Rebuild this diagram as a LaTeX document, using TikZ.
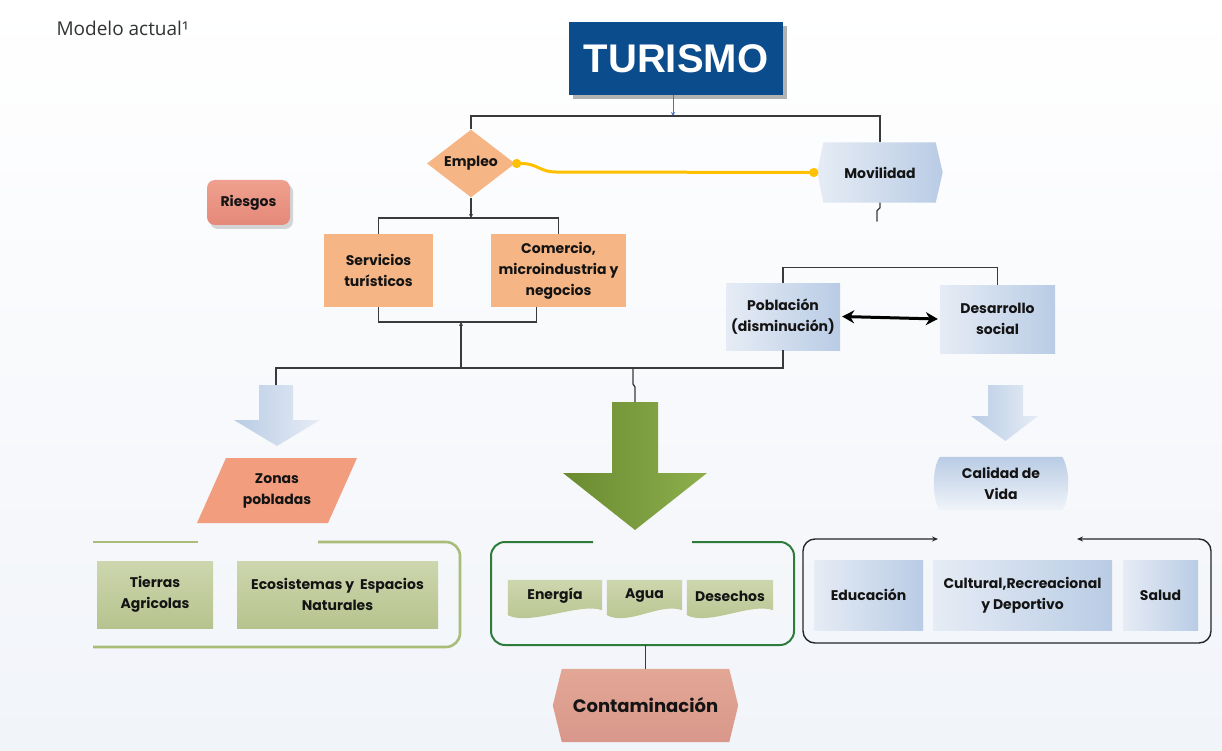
\documentclass[tikz,border=0pt]{standalone}
\usepackage{fontspec}
\setmainfont{Poppins}
\newfontfamily\headfont{Liberation Sans}
\newfontfamily\notefont{Open Sans}
\usetikzlibrary{shapes.geometric,shadows,arrows.meta,calc,backgrounds}

\definecolor{turblue}{HTML}{0B4C8C}
\definecolor{peach}{HTML}{F5B585}
\definecolor{ylw}{HTML}{FFC000}
\definecolor{bluelo}{HTML}{E6ECF5}
\definecolor{bluehi}{HTML}{B9CCE5}
\definecolor{olivelo}{HTML}{CDD6AE}
\definecolor{olivehi}{HTML}{B7C38E}
\definecolor{salmon}{HTML}{F29D7E}
\definecolor{risklo}{HTML}{E5897A}
\definecolor{riskhi}{HTML}{EFA08E}
\definecolor{roselo}{HTML}{D8978A}
\definecolor{rosehi}{HTML}{E3A796}
\definecolor{gframe}{HTML}{2E7B3B}
\definecolor{lframe}{HTML}{A9BD79}
\definecolor{linegray}{HTML}{3A3A3A}
\definecolor{grnA}{HTML}{6A8A30}
\definecolor{grnB}{HTML}{8DAF4D}
\definecolor{arrblue}{HTML}{4472C4}
\definecolor{bgc}{HTML}{F1F4F9}
\definecolor{txt}{HTML}{141414}

\begin{document}
\begin{tikzpicture}[x=1pt,y=-1pt,
  lbl/.style={font=\bfseries\fontsize{14}{21}\selectfont, align=center, text=txt, inner sep=0pt},
  bluebox/.style={left color=bluelo, right color=bluehi},
  olivebox/.style={top color=olivelo, bottom color=olivehi},
  conn/.style={draw=linegray, line width=1.3pt},
  tur/.style={fill=turblue, text=white, inner sep=0pt,
    font=\headfont\bfseries\fontsize{40}{44}\selectfont,
    drop shadow={shadow xshift=4pt, shadow yshift=-4pt, fill=black!50, opacity=0.6}},
  ylwline/.style={draw=ylw, line width=3pt, {Circle[length=9pt]}-{Circle[length=9pt]}}
]
\useasboundingbox (0,0) rectangle (1222,751);

% ---------- nodes ----------
\node[anchor=west, font=\notefont\fontsize{19}{21}\selectfont, text=black!80] (ttl) at (53,28) {Modelo actual¹};
\node[tur, minimum width=214, minimum height=73] (tur) at (676,58.5) {TURISMO};
\node[lbl, diamond, fill=peach, minimum width=88, minimum height=57] (emp) at (471,163.5) {Empleo};
\node[lbl, minimum width=125, minimum height=60] (mov) at (880,172.5) {Movilidad};
\node[lbl, rounded corners=8, top color=riskhi, bottom color=risklo, minimum width=83, minimum height=45,
  drop shadow={shadow xshift=3pt, shadow yshift=-4pt, fill=black!40, opacity=0.4}] (rie) at (248.5,202.5) {Riesgos};
\node[lbl, fill=peach, minimum width=109, minimum height=73] (serv) at (378.5,270.5) {Servicios\\turísticos};
\node[lbl, fill=peach, minimum width=135, minimum height=73] (com) at (558.5,270.5) {Comercio,\\microindustria y\\negocios};
\node[lbl, bluebox, minimum width=114, minimum height=67] (pob) at (783,316.5) {Población\\(disminución)};
\node[lbl, bluebox, minimum width=115, minimum height=68] (des) at (997.5,319) {Desarrollo\\social};
\node[lbl, minimum width=110, minimum height=60] (zon) at (277,490.5) {Zonas\\pobladas};
\node[lbl, minimum width=132, minimum height=53] (cal) at (1001,483.5) {Calidad de\\Vida};
\node[lbl, olivebox, minimum width=116, minimum height=67] (tie) at (155,594.5) {Tierras\\Agricolas};
\node[lbl, olivebox, minimum width=201, minimum height=67] (eco) at (337.5,594.5) {Ecosistemas y\ \ Espacios\\Naturales};
\node[lbl, minimum width=94, minimum height=28] (ene) at (555,596) {Energía};
\node[lbl, minimum width=75, minimum height=28] (agu) at (644.5,596) {Agua};
\node[lbl, minimum width=86, minimum height=28] (dsc) at (730,596) {Desechos};
\node[lbl, bluebox, minimum width=109, minimum height=70] (edu) at (868.5,595) {Educación};
\node[lbl, bluebox, minimum width=179, minimum height=70] (cul) at (1022.5,595) {Cultural,Recreacional\\y Deportivo};
\node[lbl, bluebox, minimum width=75, minimum height=70] (sal) at (1160.5,595) {Salud};
\node[lbl, font=\bfseries\fontsize{18}{21}\selectfont, minimum width=185, minimum height=73] (con) at (645.5,705.5) {Contaminación};

% ---------- shaped backgrounds ----------
\begin{scope}[on background layer]
  \shade[top color=white, bottom color=bgc] (0,0) rectangle (1222,751);
  % Movilidad hexagon
  \shade[left color=bluelo, right color=bluehi]
    ($(mov.north west)+(6,0)$) -- ($(mov.north east)+(-7,0)$) -- (mov.east)
    -- ($(mov.south east)+(-7,0)$) -- ($(mov.south west)+(6,0)$) -- (mov.west) -- cycle;
  % Contaminacion hexagon
  \shade[top color=rosehi, bottom color=roselo]
    ($(con.north west)+(9,0)$) -- ($(con.north east)+(-9,0)$) -- (con.east)
    -- ($(con.south east)+(-9,0)$) -- ($(con.south west)+(9,0)$) -- (con.west) -- cycle;
  % Zonas pobladas parallelogram
  \fill[salmon] (226,458) -- (357,458) -- (328,523) -- (197,523) -- cycle;
  % Calidad de Vida, convex sides
  \shade[top color=bluehi, bottom color=bluelo!60]
    ($(cal.north west)+(5,0)$) .. controls +(-8,12) and +(-8,-12) .. ($(cal.south west)+(5,0)$)
    -- ($(cal.south east)+(-5,0)$) .. controls +(8,-12) and +(8,12) .. ($(cal.north east)+(-5,0)$) -- cycle;
  % document shapes with wavy bottom
  \foreach \n in {ene,agu,dsc}{
    \shade[top color=olivelo, bottom color=olivehi]
      ($(\n.north west)+(0,-2)$) -- ($(\n.north east)+(0,-2)$) -- (\n.south east)
      .. controls +(-22,-8) and +(22,11) .. ($(\n.south west)+(0,5)$) -- cycle;
  }
\end{scope}

% ---------- block arrows ----------
\coordinate (arrL) at (276,385);
\coordinate (arrG) at (635,402);
\coordinate (arrR) at (1005.5,385);
\shade[left color=bluehi, right color=bluelo]
  (259,385) -- (293,385) -- (293,420) -- (320,420) -- (277,446) -- (234,420) -- (259,420) -- cycle;
\shade[left color=grnA, right color=grnB]
  (612,402) -- (658,402) -- (658,473) -- (707,473) -- (635,530) -- (563,473) -- (612,473) -- cycle;
\shade[left color=bluehi, right color=bluelo]
  (988,385) -- (1023,385) -- (1023,416) -- (1038,416) -- (1005.5,441) -- (971,416) -- (988,416) -- cycle;

% ---------- frames ----------
\draw[draw=lframe, line width=2.6pt, rounded corners=14]
  (93,542) -- (198,542);
\draw[draw=lframe, line width=2.6pt, rounded corners=14]
  (318,542) -- (460,542) -- (460,647) -- (93,647);
\draw[draw=gframe, line width=2pt, rounded corners=14]
  (593,542) -- (491,542) -- (491,645) -- (794,645) -- (794,542) -- (692,542);
\draw[draw=black!85, line width=1.4pt, rounded corners=12,
  {Stealth[length=6pt,width=5pt]}-{Stealth[length=6pt,width=5pt]}]
  (938,539) -- (803,539) -- (803,643) -- (1211,643) -- (1211,539) -- (1077,539);

% ---------- connectors ----------
\coordinate (b1) at (673,116);
\coordinate (b2) at (471,218);
\coordinate (b3) at (461,322);
\coordinate (b4) at (461,368);
\coordinate (b5) at (633,368);
\coordinate (fm) at (645.5,645);

\draw[draw=arrblue, line width=1pt, -{Stealth[length=4pt,width=4pt]}] (b1 |- tur.south) -- (b1);
\draw[conn] (emp.north) |- (b1) -| (mov.north);
\draw[conn] (mov.south) -- ++(0,5) -- ++(-3,3) -- ++(0,11);
\draw[ylwline] ([xshift=-3pt]emp.east) -- ++(10,0) .. controls +(14,0) and +(-14,0) .. (555,172) -- ([xshift=1pt]mov.west);
\draw[conn, -{Stealth[length=4pt,width=4pt]}] (emp.south) -- (b2);
\draw[conn] (serv.north) |- (b2) -| (com.north);
\draw[conn] (serv.south) |- (b3) -| ([xshift=-22pt]com.south);
\draw[conn, -{Stealth[length=4pt,width=4pt]}] (b4) -- (b3);
\draw[conn] (arrL) |- (b4) -| (pob.south);
\draw[conn] (b5) -- ++(0,16) -- ++(2,3) -- (arrG);
\draw[conn] (pob.north) -- ++(0,-15) -| (des.north);
\draw[black, line width=3pt, {Stealth[length=12pt,width=13pt]}-{Stealth[length=12pt,width=13pt]}]
  ([xshift=2pt]pob.east) -- ([xshift=-2pt]des.west);
\draw[conn] (fm) -- (con.north);
\end{tikzpicture}
\end{document}
